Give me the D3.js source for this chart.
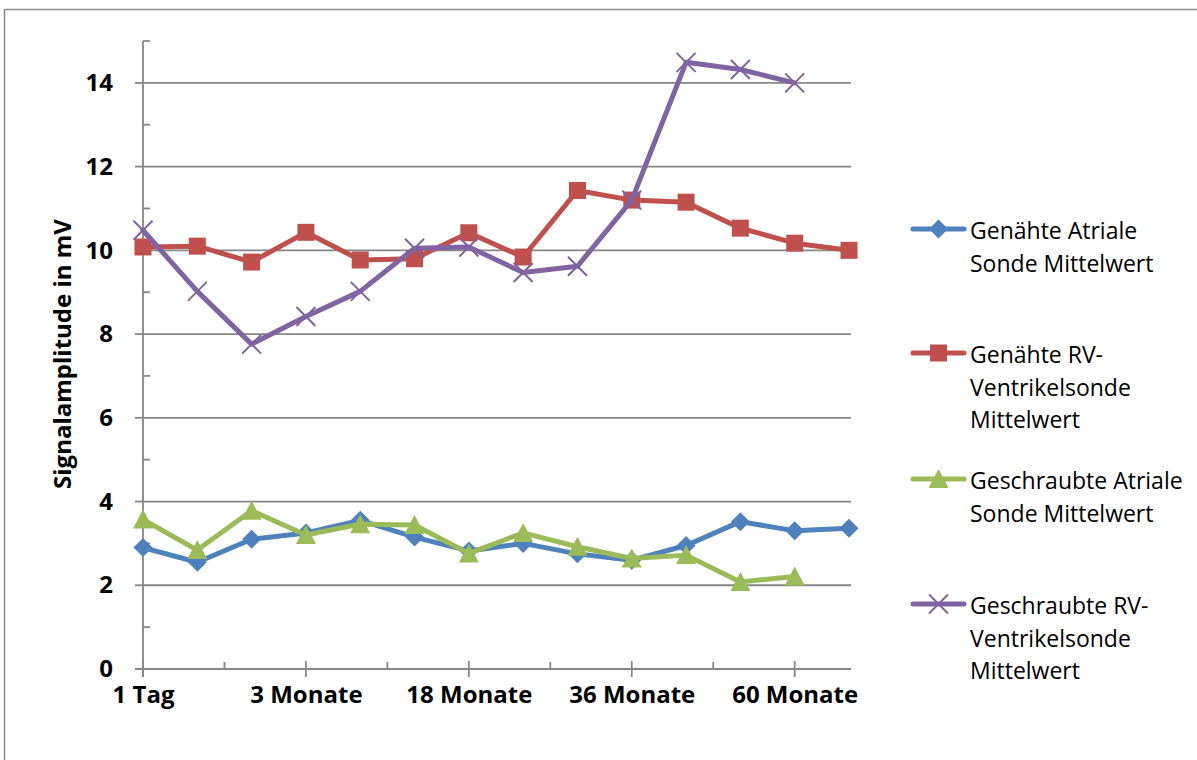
<!DOCTYPE html>
<html>
<head>
<meta charset="utf-8">
<script src="https://cdn.jsdelivr.net/npm/d3@7"></script>
<style>
  body { margin: 0; background: #fff; }
  svg { display: block; }
</style>
</head>
<body>
<svg id="chart" width="1197" height="760"></svg>
<script>
// Follow-up time points (only every third one is labelled on the axis)
const categories = ["1 Tag", "1 Woche", "6 Wochen", "3 Monate", "6 Monate", "12 Monate",
  "18 Monate", "24 Monate", "30 Monate", "36 Monate", "48 Monate", "54 Monate", "60 Monate", "72 Monate"];
const labelStep = 3;
const yTickValues = [0, 2, 4, 6, 8, 10, 12, 14];
const yMax = 15;

// Mean signal amplitude (mV) per lead type
const genaehtAtrial   = [2.9, 2.55, 3.1, 3.25, 3.55, 3.15, 2.82, 3.0, 2.75, 2.6, 2.95, 3.52, 3.3, 3.36];
const genaehtRV       = [10.08, 10.1, 9.72, 10.43, 9.77, 9.8, 10.42, 9.84, 11.43, 11.2, 11.15, 10.53, 10.17, 10.0];
const geschraubtAtrial = [3.57, 2.84, 3.78, 3.2, 3.46, 3.44, 2.76, 3.25, 2.92, 2.64, 2.72, 2.08, 2.21];
const geschraubtRV    = [10.48, 9.02, 7.76, 8.42, 9.02, 10.05, 10.08, 9.47, 9.62, 11.2, 14.49, 14.32, 14.0];

const seriesNames = [
  ["Genähte Atriale", "Sonde Mittelwert"],
  ["Genähte RV-", "Ventrikelsonde", "Mittelwert"],
  ["Geschraubte Atriale", "Sonde Mittelwert"],
  ["Geschraubte RV-", "Ventrikelsonde", "Mittelwert"]
];
const seriesValues = [genaehtAtrial, genaehtRV, geschraubtAtrial, geschraubtRV];
const seriesColors = ["#4F81BD", "#C0504D", "#9BBB59", "#8064A2"];
const seriesMarkers = ["diamond", "square", "triangle", "cross"];

const svg = d3.select("#chart");
const axisColor = "#868686";

// outer chart frame
svg.append("rect")
  .attr("x", 4.5).attr("y", 9.5)
  .attr("width", 1220).attr("height", 780)
  .attr("fill", "#fff").attr("stroke", "#8a8a8a").attr("stroke-width", 1.5);

const x = d3.scaleLinear().domain([0, categories.length - 1]).range([143, 849]);
const y = d3.scaleLinear().domain([0, yMax]).range([669, 41]);
const xEnd = x.range()[1] + 2;

// horizontal gridlines
svg.append("g").selectAll("line")
  .data(yTickValues.filter(v => v > 0))
  .join("line")
  .attr("x1", x(0)).attr("x2", xEnd)
  .attr("y1", d => y(d)).attr("y2", d => y(d))
  .attr("stroke", axisColor).attr("stroke-width", 1.8);

// y axis line, major and minor ticks
const axes = svg.append("g").attr("stroke", axisColor).attr("stroke-width", 1.8);
axes.append("line").attr("x1", x(0)).attr("x2", x(0)).attr("y1", y(yMax)).attr("y2", y(0) + 8);
axes.selectAll(".ymaj").data(yTickValues).join("line")
  .attr("x1", x(0) - 8).attr("x2", x(0)).attr("y1", d => y(d)).attr("y2", d => y(d));
axes.selectAll(".ymin").data(d3.range(1, yMax + 1, 2)).join("line")
  .attr("x1", x(0)).attr("x2", x(0) + 7).attr("y1", d => y(d)).attr("y2", d => y(d));

// x axis line, major and minor ticks
axes.append("line").attr("x1", x(0) - 8).attr("x2", xEnd).attr("y1", y(0)).attr("y2", y(0));
const labelIdx = d3.range(0, categories.length, labelStep);
axes.selectAll(".xmaj").data(labelIdx).join("line")
  .attr("x1", d => x(d)).attr("x2", d => x(d)).attr("y1", y(0) - 8).attr("y2", y(0) + 8);
axes.selectAll(".xmin").data(labelIdx.slice(0, -1).map(d => d + labelStep / 2)).join("line")
  .attr("x1", d => x(d)).attr("x2", d => x(d)).attr("y1", y(0) - 7).attr("y2", y(0));

// tick labels through d3 axes
const font = "'Open Sans', 'Noto Sans', sans-serif";
const yAxis = svg.append("g").attr("transform", `translate(${x(0)},0)`)
  .call(d3.axisLeft(y).tickValues(yTickValues).tickSize(0).tickPadding(30));
yAxis.select(".domain").remove();
yAxis.selectAll("text").attr("font-family", font).attr("font-weight", "bold")
  .attr("font-size", 24).attr("fill", "#000");

const xAxis = svg.append("g").attr("transform", `translate(0,${y(0)})`)
  .call(d3.axisBottom(x).tickValues(labelIdx).tickFormat(i => categories[i]).tickSize(0).tickPadding(17));
xAxis.select(".domain").remove();
xAxis.selectAll("text").attr("font-family", font).attr("font-weight", "bold")
  .attr("font-size", 24).attr("fill", "#000");

// y axis title
svg.append("text")
  .attr("transform", "translate(71,354) rotate(-90)")
  .attr("text-anchor", "middle")
  .attr("font-family", font).attr("font-weight", "bold").attr("font-size", 24)
  .attr("fill", "#000")
  .text("Signalamplitude in mV");

// marker drawing
function drawMarker(g, type, color) {
  if (type === "diamond") {
    g.append("path").attr("d", "M0,-9.5L9.5,0L0,9.5L-9.5,0Z").attr("fill", color);
  } else if (type === "square") {
    g.append("rect").attr("x", -8.5).attr("y", -8.5).attr("width", 17).attr("height", 17).attr("fill", color);
  } else if (type === "triangle") {
    g.append("path").attr("d", "M0,-10L10,9L-10,9Z").attr("fill", color);
  } else {
    g.append("path").attr("d", "M-9.5,-9.5L9.5,9.5M9.5,-9.5L-9.5,9.5")
      .attr("stroke", color).attr("stroke-width", 2).attr("fill", "none");
  }
}

const line = d3.line().x((d, i) => x(i)).y(d => y(d));

seriesValues.forEach((vals, s) => {
  const g = svg.append("g");
  g.append("path").datum(vals)
    .attr("d", line)
    .attr("fill", "none")
    .attr("stroke", seriesColors[s])
    .attr("stroke-width", 5)
    .attr("stroke-linejoin", "round")
    .attr("stroke-linecap", "round");
  vals.forEach((v, i) => {
    const m = g.append("g").attr("transform", `translate(${x(i)},${y(v)})`);
    drawMarker(m, seriesMarkers[s], seriesColors[s]);
  });
});

// legend
const legendY = [229, 353, 479, 604];
seriesNames.forEach((lines, s) => {
  const g = svg.append("g").attr("transform", `translate(0,${legendY[s]})`);
  g.append("line").attr("x1", 913).attr("x2", 964).attr("y1", 0).attr("y2", 0)
    .attr("stroke", seriesColors[s]).attr("stroke-width", 5).attr("stroke-linecap", "round");
  const m = g.append("g").attr("transform", "translate(938.5,0)");
  drawMarker(m, seriesMarkers[s], seriesColors[s]);
  const t = g.append("text").attr("font-family", font).attr("font-size", 23).attr("fill", "#000");
  lines.forEach((ln, k) => {
    t.append("tspan").attr("x", 970).attr("y", 10 + k * 32.5).text(ln);
  });
});
</script>
</body>
</html>
